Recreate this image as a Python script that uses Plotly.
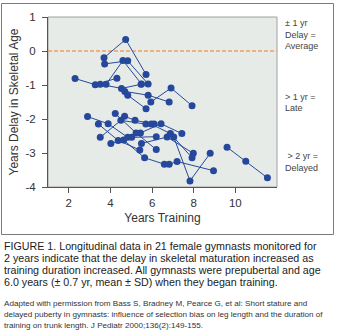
import plotly.graph_objects as go

# Each gymnast: years of training at each visit and the matching skeletal-age delay
training_years = [
    [2.30, 3.27, 4.31],
    [3.69, 4.73, 5.71],
    [3.72, 4.83, 5.81],
    [3.51, 4.53, 5.47],
    [3.79, 4.60, 5.49],
    [4.69, 5.81, 6.82],
    [4.83, 5.71],
    [5.94, 6.91, 7.92],
    [2.90, 3.89, 4.83],
    [3.42, 4.37, 5.41],
    [3.51, 4.50, 5.70],
    [4.02, 5.02, 6.20],
    [4.23, 5.23, 6.20],
    [4.68, 5.18, 6.10],
    [4.63, 5.64, 6.59],
    [5.44, 6.43, 7.43],
    [5.49, 6.72, 7.98],
    [5.96, 6.88, 7.92],
    [6.82, 7.20, 8.95],
    [7.04, 7.82, 8.79],
    [9.60, 10.50, 11.54],
]
skeletal_delay = [
    [-0.81, -0.99, -0.80],
    [-0.20, 0.34, -0.69],
    [-0.38, -0.29, -0.97],
    [-0.98, -1.10, -0.98],
    [-0.98, -0.28, -0.97],
    [-1.19, -1.30, -1.50],
    [-1.30, -1.70],
    [-1.50, -1.09, -1.61],
    [-1.93, -2.14, -2.54],
    [-2.15, -2.63, -2.91],
    [-2.54, -2.04, -2.15],
    [-2.72, -2.54, -2.52],
    [-1.84, -2.41, -2.90],
    [-1.92, -2.04, -2.15],
    [-2.62, -3.14, -3.33],
    [-2.41, -2.14, -2.43],
    [-2.72, -2.53, -3.01],
    [-2.15, -2.43, -3.14],
    [-3.33, -3.25, -3.52],
    [-2.53, -3.82, -3.01],
    [-2.83, -3.24, -3.73],
]

x_ticks = [2, 4, 6, 8, 10]
y_ticks = [-4, -3, -2, -1, 0, 1]
y_tick_text = ["-4", "-3", "-2", "-1", "0", "1"]

band_notes = [
    (0.82, ["\u00b1 1 yr", "Delay =", "Average"]),
    (-1.34, ["> 1 yr =", "Late"]),
    (-3.10, [" > 2 yr =", "Delayed"]),
]

caption_lines = [
    "FIGURE 1. Longitudinal data in 21 female gymnasts monitored for",
    "2 years indicate that the delay in skeletal maturation increased as",
    "training duration increased. All gymnasts were prepubertal and age",
    "6.0 years (\u00b1 0.7 yr, mean \u00b1 SD) when they began training.",
]
source_lines = [
    "Adapted with permission from Bass S, Bradney M, Pearce G, et al: Short stature and",
    "delayed puberty in gymnasts: influence of selection bias on leg length and the duration of",
    "training on trunk length. J Pediatr 2000;136(2):149-155.",
]

W, H = 337, 336
# plot area edges in page pixels
PL, PR, PT, PB = 48, 277, 17, 187

def px_x(p):
    return p / W

def px_y(p):
    return 1 - p / H

BLUE = "#26489a"
FONT = "Liberation Sans, Arial, sans-serif"
FRAME = "#7a7a7a"

fig = go.Figure()
for xs, ys in zip(training_years, skeletal_delay):
    fig.add_trace(go.Scatter(
        x=xs, y=ys, mode="lines+markers",
        line=dict(color=BLUE, width=1),
        marker=dict(color=BLUE, size=7),
        showlegend=False, hoverinfo="skip",
    ))

shapes = [
    # outer frame around the figure panel
    dict(type="rect", xref="paper", yref="paper",
         x0=px_x(1.5), x1=px_x(333.5), y0=px_y(234.5), y1=px_y(3.5),
         line=dict(color=FRAME, width=1), layer="above"),
    # plot border
    dict(type="rect", xref="paper", yref="paper",
         x0=px_x(PL), x1=px_x(PR), y0=px_y(PB), y1=px_y(PT),
         line=dict(color="#a0a0a0", width=1), layer="below"),
    # zero-delay reference line
    dict(type="line", xref="x", yref="y", x0=1, x1=12, y0=0, y1=0,
         line=dict(color="#f0a060", width=1.5, dash="4px,2px"), layer="below"),
]

annotations = []
for y0, lines in band_notes:
    for i, t in enumerate(lines):
        annotations.append(dict(
            text=t, xref="paper", yref="y", x=px_x(283), y=y0 - i * 0.337,
            xanchor="left", yanchor="middle", showarrow=False,
            font=dict(family=FONT, size=9, color="#444444"),
        ))
for i, t in enumerate(caption_lines):
    annotations.append(dict(
        text=t, xref="paper", yref="paper", x=px_x(2), y=px_y(246 + 12 * i),
        xanchor="left", yanchor="middle", showarrow=False,
        font=dict(family=FONT, size=10.7, color="#222222"),
    ))
for i, t in enumerate(source_lines):
    annotations.append(dict(
        text=t, xref="paper", yref="paper", x=px_x(2), y=px_y(303 + 11 * i),
        xanchor="left", yanchor="middle", showarrow=False,
        font=dict(family=FONT, size=8.1, color="#333333"),
    ))

fig.update_layout(
    width=W, height=H,
    margin=dict(l=0, r=0, t=0, b=0, pad=0),
    paper_bgcolor="white",
    plot_bgcolor="#e6ebe8",
    font=dict(family=FONT, size=11, color="#333333"),
    shapes=shapes,
    annotations=annotations,
    xaxis=dict(
        domain=[px_x(PL), px_x(PR)], automargin=False,
        range=[1, 12], tickvals=x_ticks, ticks="outside", ticklen=5,
        tickcolor="#555555", showline=True, linecolor="#555555",
        showgrid=False, zeroline=False,
        tickfont=dict(size=11.5, color="#333333"),
        title=dict(text="Years Training", font=dict(size=12, color="#333333"), standoff=5),
    ),
    yaxis=dict(
        domain=[px_y(PB), px_y(PT)], automargin=False,
        range=[-4, 1], tickvals=y_ticks, ticktext=y_tick_text, ticks="outside",
        ticklen=5, tickcolor="#555555", showline=True, linecolor="#555555",
        showgrid=False, zeroline=False, ticklabelstandoff=4,
        tickfont=dict(size=11.5, color="#333333"),
        title=dict(text="Years Delay in Skeletal Age", font=dict(size=12, color="#333333"), standoff=4),
    ),
)

fig.write_html("out.html")
